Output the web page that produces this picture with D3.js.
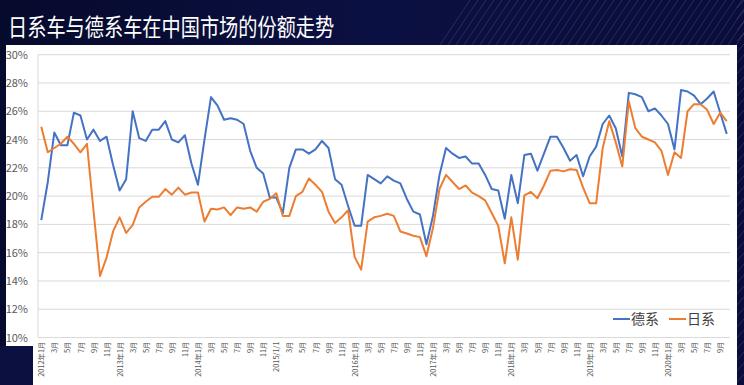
<!DOCTYPE html>
<html><head><meta charset="utf-8">
<script src="https://cdn.jsdelivr.net/npm/d3@7"></script>
<style>
html,body{margin:0;padding:0;background:#0a0e38;}
svg{display:block;}
</style></head>
<body>
<svg id="c" width="744" height="385"></svg>
<script>
// ---- data ----
const title = "日系车与德系车在中国市场的份额走势";
const startYear = 2012, startMonth = 1, monthCount = 106; // 2012-01 .. 2020-10
const seriesNames = ["德系", "日系"];
const german = [18.3,21.0,24.5,23.6,23.6,25.9,25.7,24.0,24.7,23.9,24.2,22.2,20.4,21.2,26.0,24.1,23.9,24.7,24.7,25.3,24.0,23.8,24.3,22.3,20.8,24.0,27.0,26.4,25.4,25.5,25.4,25.1,23.2,22.0,21.6,19.9,19.9,18.8,22.0,23.3,23.3,23.0,23.3,23.9,23.4,21.2,20.8,19.3,17.9,17.9,21.5,21.2,20.9,21.4,21.1,20.9,19.8,18.9,18.7,16.6,18.6,21.5,23.4,23.0,22.7,22.8,22.3,22.3,21.5,20.5,20.4,18.4,21.5,19.5,22.9,23.0,21.8,23.0,24.2,24.2,23.4,22.5,22.9,21.4,22.8,23.5,25.1,25.7,24.8,22.8,27.3,27.2,27.0,26.0,26.2,25.7,25.1,23.3,27.5,27.4,27.1,26.5,26.9,27.4,25.9,24.4];
const japanese = [24.9,23.1,23.4,23.7,24.2,23.7,23.1,23.7,19.0,14.35,15.65,17.5,18.5,17.4,17.95,19.2,19.6,19.95,19.95,20.5,20.1,20.6,20.1,20.25,20.25,18.2,19.1,19.05,19.2,18.65,19.2,19.1,19.2,18.9,19.6,19.8,20.2,18.6,18.6,20.0,20.3,21.25,20.8,20.3,18.9,18.1,18.5,19.0,15.7,14.8,18.2,18.5,18.6,18.75,18.6,17.5,17.35,17.2,17.1,15.75,17.75,20.5,21.5,21.0,20.5,20.75,20.25,20.0,19.7,18.8,17.9,15.25,18.5,15.5,20.05,20.3,19.85,20.75,21.8,21.85,21.75,21.9,21.85,20.6,19.5,19.5,23.4,25.3,23.8,22.1,26.7,24.8,24.2,24.0,23.8,23.2,21.5,23.1,22.7,26.0,26.5,26.5,26.1,25.1,25.9,25.3];
const yTicks = [10,12,14,16,18,20,22,24,26,28,30];
const colors = ["#4472C4", "#ED7D31"];

// categories (year, month)
const categories = d3.range(monthCount).map(i => {
  const m0 = startMonth - 1 + i;
  return {y: startYear + Math.floor(m0 / 12), m: (m0 % 12) + 1, i};
});
function tickLabel(c) {
  if (c.m === 1) return c.y === 2015 ? "2015/1/1" : c.y + "年1月";
  return c.m + "月";
}

// ---- drawing ----
const svg = d3.select("#c");
const W = 744, H = 385;
const defs = svg.append("defs");
const g1 = defs.append("linearGradient").attr("id","bg").attr("x1","0").attr("y1","0").attr("x2","1").attr("y2","0");
g1.append("stop").attr("offset","0").attr("stop-color","#060a2c");
g1.append("stop").attr("offset","0.5").attr("stop-color","#0b1042");
g1.append("stop").attr("offset","1").attr("stop-color","#0a0d3a");
svg.append("rect").attr("width",W).attr("height",H).attr("fill","url(#bg)");

// decorative diagonal streaks in header / right side
const streaks = svg.append("g").attr("stroke","#8a90c0").attr("stroke-opacity",0.3).attr("stroke-width",0.8);
d3.range(440, 800, 8).forEach(x0 => {
  streaks.append("line").attr("x1", x0).attr("y1", 45).attr("x2", x0 + 30).attr("y2", 0);
});
d3.range(0, 385, 11).forEach(y0 => {
  streaks.append("line").attr("x1", 737).attr("y1", y0 + 8).attr("x2", 744).attr("y2", y0);
});

// title
svg.append("text").attr("x", 8).attr("y", 36)
  .attr("transform","translate(8,36) scale(1,1.22) translate(-8,-36)")
  .attr("fill","#ffffff")
  .attr("font-family","'Noto Sans CJK SC', sans-serif")
  .attr("font-size", 19.2).attr("font-weight", 400)
  .text(title);

// white panel
svg.append("rect").attr("x", 6).attr("y", 45).attr("width", 731).attr("height", 340).attr("fill", "#ffffff");
svg.append("rect").attr("x", 0).attr("y", 346).attr("width", 33).attr("height", 39).attr("fill", "#0c1040");

const pLeft = 38, pRight = 730, pTop = 54.7, pBottom = 337.5;
const x = d3.scalePoint().domain(categories.map(c => c.i)).range([pLeft, pRight]).padding(0.5);
const y = d3.scaleLinear().domain([10, 30]).range([pBottom, pTop]);

// gridlines
svg.append("g").selectAll("line").data(yTicks).join("line")
  .attr("x1", pLeft).attr("x2", pRight)
  .attr("y1", d => y(d)).attr("y2", d => y(d))
  .attr("stroke", "#d9d9d9").attr("stroke-width", 1);
svg.append("line").attr("x1", pLeft).attr("x2", pLeft).attr("y1", pTop).attr("y2", pBottom)
  .attr("stroke", "#d9d9d9");

// y axis
const yAxis = d3.axisLeft(y).tickValues(yTicks).tickSize(0).tickPadding(10).tickFormat(d => d + "%");
const ya = svg.append("g").attr("transform", `translate(${pLeft},0)`).call(yAxis);
ya.select(".domain").remove();
ya.selectAll("text").attr("fill", "#595959").attr("font-size", 11)
  .attr("font-family", "'Noto Sans CJK SC', sans-serif");

// x axis
const tickCats = categories.filter(c => c.m % 2 === 1);
const xAxis = d3.axisBottom(x).tickValues(tickCats.map(c => c.i)).tickSize(0)
  .tickFormat(i => tickLabel(categories[i]));
const xa = svg.append("g").attr("transform", `translate(0,${pBottom})`).call(xAxis);
xa.select(".domain").remove();
xa.selectAll("text")
  .attr("fill", "#595959").attr("font-size", 7.4)
  .attr("font-family", "'Noto Sans CJK SC', sans-serif")
  .attr("text-anchor", "end")
  .attr("dy", "0.35em").attr("y", 0).attr("x", 0)
  .attr("transform", "translate(0,4) rotate(-90)");

// lines
const line = d3.line().x((d, i) => x(i)).y(d => y(d));
[german, japanese].forEach((s, k) => {
  svg.append("path").datum(s).attr("d", line)
    .attr("fill", "none").attr("stroke", colors[k]).attr("stroke-width", 2)
    .attr("stroke-linejoin", "round");
});

// legend
const lg = svg.append("g").attr("font-family", "'Noto Sans CJK SC', sans-serif").attr("font-size", 14).attr("fill", "#404040");
const legendX = [613, 669];
seriesNames.forEach((n, k) => {
  lg.append("line").attr("x1", legendX[k]).attr("x2", legendX[k] + 17)
    .attr("y1", 319).attr("y2", 319).attr("stroke", colors[k]).attr("stroke-width", 2);
  lg.append("text").attr("x", legendX[k] + 18).attr("y", 324).text(n);
});
</script>
</body></html>
